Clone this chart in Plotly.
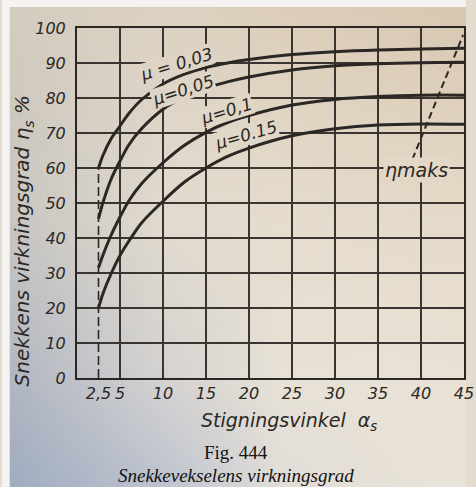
import base64
import struct
import zlib

import numpy as np
import plotly.graph_objects as go

# Stigningsvinkel alpha_s (grader) og virkningsgrad eta_s (%) for hver friksjonskoeffisient
alpha = [2.5, 3, 4, 5, 6, 7.5, 10, 12.5, 15, 17.5, 20, 25, 30, 35, 40, 45]
eta_mu_003 = [60, 63.5, 68.5, 72, 75.5, 79.5, 84, 86.8, 88.7, 90, 91, 92.4, 93.2, 93.7, 94, 94.2]
eta_mu_005 = [45.5, 50, 57, 62, 66.5, 71.2, 76.8, 80.3, 82.8, 84.6, 86, 88, 89.2, 89.8, 90.1, 90.2]
eta_mu_01 = [31.5, 35, 41, 46, 50.5, 55.5, 61.5, 66.5, 70.2, 73, 75, 78, 79.6, 80.4, 80.8, 80.8]
eta_mu_015 = [20, 24, 30, 35, 39, 44.3, 50.5, 56, 60, 63.3, 65.7, 69.2, 71.2, 72.3, 72.6, 72.5]

mu_labels = ["μ = 0,03", "μ=0,05", "μ=0,1", "μ=0.15"]

# Linjen gjennom maksimalpunktene (eta maks)
eta_max_alpha = [39.0, 44.9]
eta_max_value = [62.5, 98.0]

x_tick_vals = [2.5, 5, 10, 15, 20, 25, 30, 35, 40, 45]
x_tick_text = ["2,5", "5", "10", "15", "20", "25", "30", "35", "40", "45"]
y_tick_vals = [0, 10, 20, 30, 40, 50, 60, 70, 80, 90, 100]

W, H = 476, 487
ML, MR, MT, MB = 77, 2, 28, 109
PW, PH = W - ML - MR, H - MT - MB

INK = "#2b2724"
GRID = "#3a3531"
SANS = "DejaVu Sans"
SERIF = "Liberation Serif"

# Papirtone: fargeovergang fra blågrå nede til venstre til beige/brunlig oppe til høyre
tone_u = np.array([0.0, 0.35, 0.6, 1.0])
tone_v = np.array([0.0, 0.45, 0.78, 1.0])
paper_grid = np.array([
    [[212, 204, 190], [220, 210, 194], [220, 206, 186], [216, 200, 178]],
    [[200, 198, 194], [226, 219, 207], [230, 221, 206], [230, 219, 202]],
    [[176, 182, 194], [214, 212, 210], [232, 226, 215], [233, 226, 213]],
    [[160, 172, 192], [190, 196, 208], [226, 222, 216], [234, 227, 216]],
], dtype=float)


def paper_tone(u, v):
    """Bilinear tone at fractional position (u right, v down)."""
    cols = np.array([[np.interp(u, tone_u, paper_grid[r, :, c]) for c in range(3)]
                     for r in range(len(tone_v))])
    return np.array([np.interp(v, tone_v, cols[:, c]) for c in range(3)])


def tone_hex(px, py):
    r, g, b = paper_tone(px / W, py / H)
    return "#%02x%02x%02x" % (int(r), int(g), int(b))


def png_uri(img):
    h, w, _ = img.shape
    raw = b"".join(b"\x00" + img[r].tobytes() for r in range(h))

    def chunk(tag, data):
        return (struct.pack(">I", len(data)) + tag + data
                + struct.pack(">I", zlib.crc32(tag + data) & 0xFFFFFFFF))

    png = (b"\x89PNG\r\n\x1a\n"
           + chunk(b"IHDR", struct.pack(">IIBBBBB", w, h, 8, 2, 0, 0, 0))
           + chunk(b"IDAT", zlib.compress(raw, 9))
           + chunk(b"IEND", b""))
    return "data:image/png;base64," + base64.b64encode(png).decode()


GW, GH = 64, 64
tex = np.zeros((GH, GW, 3), dtype=np.uint8)
for j in range(GH):
    for i in range(GW):
        tex[j, i] = np.clip(paper_tone(i / (GW - 1), j / (GH - 1)), 0, 255).astype(np.uint8)


def px_to_x(px):
    return (px - ML) / PW * 45.0


def py_to_y(py):
    return (MT + PH - py) / PH * 100.0


def paper_x(px):
    return (px - ML) / PW


def paper_y(py):
    return (MT + PH - py) / PH


fig = go.Figure()

curve_line = dict(color=INK, width=3, shape="spline", smoothing=0.8)
for name, vals in zip(mu_labels, [eta_mu_003, eta_mu_005, eta_mu_01, eta_mu_015]):
    fig.add_trace(go.Scatter(x=alpha, y=vals, mode="lines", name=name,
                             line=curve_line, hoverinfo="x+y+name"))

# stiplet hjelpelinje ved 2,5 grader opp til den øverste kurven
fig.add_trace(go.Scatter(x=[alpha[0], alpha[0]], y=[0, eta_mu_003[0]], mode="lines",
                         line=dict(color=INK, width=1.6, dash="9px,4px"), hoverinfo="skip"))

fig.add_trace(go.Scatter(x=eta_max_alpha, y=eta_max_value, mode="lines",
                         line=dict(color=INK, width=2, dash="7px,4px"), hoverinfo="skip"))

label_specs = [
    # text, pixel centre, angle
    (mu_labels[0], (179, 64), -17),
    (mu_labels[1], (186, 90), -18),
    (mu_labels[2], (230, 111), -17),
    (mu_labels[3], (250, 135), -16),
]
annotations = []
for text, (px, py), ang in label_specs:
    annotations.append(dict(
        x=px_to_x(px), y=py_to_y(py), xref="x", yref="y", text=text, showarrow=False,
        xanchor="center", yanchor="middle",
        textangle=ang, font=dict(family=SANS, size=17, color=INK, style="italic"),
        bgcolor=tone_hex(px, py), borderpad=0))

annotations.append(dict(
    x=px_to_x(425), y=py_to_y(170), xref="x", yref="y", text="η<i>maks</i>",
    showarrow=False, xanchor="center", yanchor="middle",
    font=dict(family=SANS, size=19, color=INK, style="italic"),
    bgcolor=tone_hex(425, 170), borderpad=1))

# aksetitler og figurtekst
annotations.append(dict(
    x=paper_x(22), y=paper_y(241), xref="paper", yref="paper",
    xanchor="center", yanchor="middle",
    text="Snekkens virkningsgrad η<sub>s</sub> %", textangle=-90, showarrow=False,
    font=dict(family=SANS, size=20, color=INK, style="italic")))
annotations.append(dict(
    x=paper_x(294), y=paper_y(421), xref="paper", yref="paper",
    xanchor="center", yanchor="middle",
    text="Stigningsvinkel  α<sub>s</sub>", showarrow=False,
    font=dict(family=SANS, size=19, color=INK, style="italic")))
annotations.append(dict(
    x=paper_x(240), y=paper_y(452), xref="paper", yref="paper",
    xanchor="center", yanchor="middle",
    text="Fig. 444", showarrow=False,
    font=dict(family=SERIF, size=19, color="#151313")))
annotations.append(dict(
    x=paper_x(240), y=paper_y(475), xref="paper", yref="paper",
    xanchor="center", yanchor="middle",
    text="Snekkevekselens virkningsgrad", showarrow=False,
    font=dict(family=SERIF, size=19, color="#141212", style="italic")))

fig.update_layout(
    width=W, height=H, autosize=False,
    margin=dict(l=ML, r=MR, t=MT, b=MB, pad=0),
    paper_bgcolor=tone_hex(W / 2, H / 2),
    plot_bgcolor="rgba(0,0,0,0)",
    showlegend=False,
    annotations=annotations,
    images=[dict(source=png_uri(tex), xref="paper", yref="paper",
                 x=-ML / PW, y=1 + MT / PH, sizex=W / PW, sizey=H / PH,
                 xanchor="left", yanchor="top", sizing="stretch", layer="below")],
    shapes=[
        dict(type="rect", xref="paper", yref="paper", x0=-ML / PW, x1=-(ML - 8) / PW,
             y0=-MB / PH, y1=1 + MT / PH, fillcolor="#f4f3f1", line_width=0, layer="above"),
        dict(type="rect", xref="paper", yref="paper", x0=-ML / PW, x1=1 + MR / PW,
             y0=1 + (MT - 7) / PH, y1=1 + MT / PH, fillcolor="#f4f3f1", line_width=0, layer="above"),
    ],
    xaxis=dict(
        range=[0, 45], tickvals=x_tick_vals, ticktext=x_tick_text, showgrid=False,
        zeroline=False, showline=True, linecolor=INK, linewidth=2, mirror=True,
        ticks="", ticklabelstandoff=0, ticklabeloverflow="allow",
        tickfont=dict(family=SANS, size=16, color=INK, style="italic"),
        minor=dict(tickvals=[5, 10, 15, 20, 25, 30, 35, 40], showgrid=True,
                   gridcolor=GRID, gridwidth=1.5, ticks=""),
    ),
    yaxis=dict(
        range=[0, 100], tickvals=y_tick_vals, showgrid=True, gridcolor=GRID, gridwidth=1.5,
        zeroline=False, showline=True, linecolor=INK, linewidth=2, mirror=True,
        ticks="", ticklabelstandoff=6,
        tickfont=dict(family=SANS, size=16, color=INK, style="italic"),
    ),
)

fig.write_html("out.html")
